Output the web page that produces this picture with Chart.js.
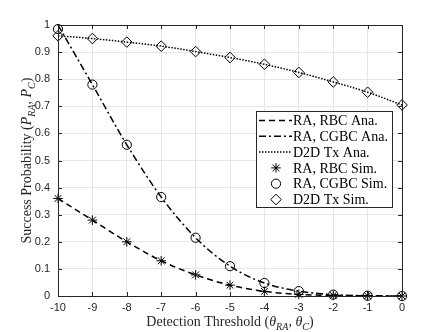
<!DOCTYPE html>
<html>
<head>
<meta charset="utf-8">
<script src="https://cdn.jsdelivr.net/npm/chart.js@4/dist/chart.umd.min.js"></script>
<style>
  html, body { margin: 0; padding: 0; background: #fff; }
  #wrap { width: 443px; height: 332px; }
</style>
</head>
<body>
<div id="wrap"><canvas id="chart" width="443" height="332"></canvas></div>
<script>
// detection threshold values (x axis)
const thresholds = [-10, -9, -8, -7, -6, -5, -4, -3, -2, -1, 0];

// analytical curves
const rbcAna = [0.36, 0.28, 0.2, 0.13, 0.078, 0.04, 0.017, 0.006, 0.002, 0.0005, 0];
const cgbcAna = [1.0, 0.78, 0.558, 0.365, 0.215, 0.11, 0.048, 0.018, 0.005, 0.001, 0];
const d2dAna = [0.96, 0.95, 0.937, 0.922, 0.902, 0.88, 0.855, 0.825, 0.79, 0.752, 0.705];

// simulation points
const rbcSim = [0.36, 0.28, 0.2, 0.13, 0.078, 0.04, 0.017, 0.006, 0.002, 0.0005, 0];
const cgbcSim = [0.985, 0.78, 0.558, 0.365, 0.215, 0.11, 0.048, 0.018, 0.005, 0.001, 0];
const d2dSim = [0.96, 0.95, 0.937, 0.922, 0.902, 0.88, 0.855, 0.825, 0.79, 0.752, 0.705];

const yTicks = [0, 0.1, 0.2, 0.3, 0.4, 0.5, 0.6, 0.7, 0.8, 0.9, 1];

const legendLabels = [
  "RA, RBC Ana.",
  "RA, CGBC Ana.",
  "D2D Tx Ana.",
  "RA, RBC Sim.",
  "RA, CGBC Sim.",
  "D2D Tx Sim.",
];

const AXIS = "#262626";
const SERIF = "'Liberation Serif', 'DejaVu Serif', serif";

const toPoints = (values) => thresholds.map((x, i) => ({ x: x, y: values[i] }));

const lineSet = (label, values, dash) => ({
  label: label,
  data: toPoints(values),
  borderColor: "#000",
  borderWidth: 1.5,
  borderDash: dash,
  pointRadius: 0,
  cubicInterpolationMode: "monotone",
  clip: false,
  fill: false,
});

const markerSet = (label, values, style, radius) => ({
  label: label,
  data: toPoints(values),
  showLine: false,
  borderColor: "#000",
  backgroundColor: "rgba(0,0,0,0)",
  borderWidth: 1,
  pointStyle: style,
  pointRadius: radius,
  pointBorderWidth: 1,
  clip: false,
});

const dashes = [[6, 4], [7, 3, 2, 3], [1.5, 1.5]];
const markers = [["star", 4.8], ["circle", 4.6], ["rectRot", 5.3]];

// draws a text with subscripts: parts = [[text, isSub, isItalic], ...]
const drawRich = (ctx, parts, x, y, size) => {
  let total = 0;
  const widths = parts.map(([t, sub, it]) => {
    ctx.font = `${it ? "italic " : ""}${sub ? size * 0.72 : size}px ${SERIF}`;
    const w = ctx.measureText(t).width;
    total += w;
    return w;
  });
  let cx = x - total / 2;
  parts.forEach(([t, sub, it], i) => {
    ctx.font = `${it ? "italic " : ""}${sub ? size * 0.72 : size}px ${SERIF}`;
    ctx.fillText(t, cx, sub ? y + size * 0.25 : y);
    cx += widths[i];
  });
};

const framePlugin = {
  id: "frame",
  afterDatasetsDraw(chart) {
    const { ctx, chartArea: a, scales } = chart;
    ctx.save();
    ctx.strokeStyle = AXIS;
    ctx.lineWidth = 1;
    ctx.beginPath();
    ctx.rect(a.left + 0.5, a.top + 0.5, a.right - a.left, a.bottom - a.top);
    ctx.stroke();
    const tl = 4;
    ctx.beginPath();
    thresholds.forEach((v) => {
      const px = Math.round(scales.x.getPixelForValue(v)) + 0.5;
      ctx.moveTo(px, a.bottom);
      ctx.lineTo(px, a.bottom - tl);
      ctx.moveTo(px, a.top);
      ctx.lineTo(px, a.top + tl);
    });
    yTicks.forEach((v) => {
      const py = Math.round(scales.y.getPixelForValue(v)) + 0.5;
      ctx.moveTo(a.left, py);
      ctx.lineTo(a.left + tl, py);
      ctx.moveTo(a.right, py);
      ctx.lineTo(a.right - tl, py);
    });
    ctx.stroke();
    ctx.restore();
  },
  afterDraw(chart) {
    const { ctx, chartArea: a } = chart;
    ctx.save();
    ctx.fillStyle = AXIS;
    ctx.textBaseline = "alphabetic";
    ctx.textAlign = "left";

    // x axis title
    drawRich(ctx, [
      ["Detection Threshold (", false, false],
      ["θ", false, true],
      ["RA", true, true],
      [", ", false, false],
      ["θ", false, true],
      ["C", true, true],
      [")", false, false],
    ], (a.left + a.right) / 2, 326, 14);

    // y axis title
    ctx.translate(31, (a.top + a.bottom) / 2);
    ctx.rotate(-Math.PI / 2);
    drawRich(ctx, [
      ["Success Probability (", false, false],
      ["P", false, true],
      ["RA", true, true],
      [", ", false, false],
      ["P", false, true],
      ["C", true, true],
      [")", false, false],
    ], 0, 0, 14);
    ctx.restore();

    // legend box
    const lx = 256, ly = 111, lw = 136, lh = 96;
    ctx.save();
    ctx.fillStyle = "#fff";
    ctx.fillRect(lx, ly, lw, lh);
    ctx.strokeStyle = AXIS;
    ctx.lineWidth = 1;
    ctx.strokeRect(lx + 0.5, ly + 0.5, lw, lh);
    ctx.font = `14px ${SERIF}`;
    ctx.fillStyle = "#000";
    ctx.textBaseline = "middle";
    legendLabels.forEach((label, i) => {
      const cy = ly + 9.5 + i * 15.8;
      if (i < 3) {
        ctx.save();
        ctx.strokeStyle = "#000";
        ctx.lineWidth = 1.5;
        ctx.setLineDash(dashes[i]);
        ctx.beginPath();
        ctx.moveTo(lx + 3, cy);
        ctx.lineTo(lx + 36, cy);
        ctx.stroke();
        ctx.restore();
      } else {
        const [style, r] = markers[i - 3];
        ctx.save();
        ctx.strokeStyle = "#000";
        ctx.fillStyle = "rgba(0,0,0,0)";
        ctx.lineWidth = 1;
        Chart.helpers.drawPoint(ctx, { pointStyle: style, radius: r, borderWidth: 1, rotation: 0 }, lx + 20, cy);
        ctx.restore();
      }
      ctx.fillText(label, lx + 37, cy + 1);
    });
    ctx.restore();
  },
};

new Chart(document.getElementById("chart"), {
  type: "line",
  data: {
    datasets: [
      lineSet(legendLabels[0], rbcAna, dashes[0]),
      lineSet(legendLabels[1], cgbcAna, dashes[1]),
      lineSet(legendLabels[2], d2dAna, dashes[2]),
      markerSet(legendLabels[3], rbcSim, markers[0][0], markers[0][1]),
      markerSet(legendLabels[4], cgbcSim, markers[1][0], markers[1][1]),
      markerSet(legendLabels[5], d2dSim, markers[2][0], markers[2][1]),
    ],
  },
  options: {
    responsive: false,
    animation: false,
    events: [],
    layout: { padding: { top: 25, right: 41, left: 0, bottom: 0 } },
    plugins: {
      legend: { display: false },
      tooltip: { enabled: false },
    },
    scales: {
      x: {
        type: "linear",
        min: -10,
        max: 0,
        afterFit: (s) => { s.height = 36; },
        afterBuildTicks: (s) => { s.ticks = thresholds.map((v) => ({ value: v })); },
        grid: { color: "#e6e6e6", drawTicks: false },
        border: { display: false },
        ticks: {
          color: AXIS,
          padding: 5,
          font: { family: "'Liberation Sans', Arial, sans-serif", size: 11 },
        },
      },
      y: {
        type: "linear",
        min: 0,
        max: 1,
        afterFit: (s) => { s.width = 58; },
        afterBuildTicks: (s) => { s.ticks = yTicks.map((v) => ({ value: v })); },
        grid: { color: "#e6e6e6", drawTicks: false },
        border: { display: false },
        ticks: {
          color: AXIS,
          padding: 8,
          font: { family: "'Liberation Sans', Arial, sans-serif", size: 11 },
          callback: (v) => String(Math.round(v * 10) / 10),
        },
      },
    },
  },
  plugins: [framePlugin],
});
</script>
</body>
</html>
